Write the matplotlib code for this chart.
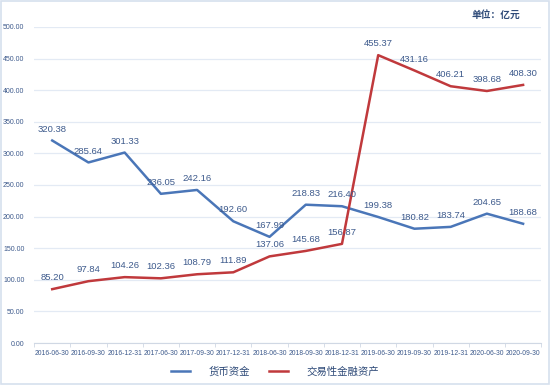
import matplotlib
matplotlib.use("Agg")
import matplotlib.pyplot as plt
from matplotlib.patches import Rectangle
import numpy as np

dates = ["2016-06-30", "2016-09-30", "2016-12-31", "2017-06-30", "2017-09-30", "2017-12-31",
         "2018-06-30", "2018-09-30", "2018-12-31", "2019-06-30", "2019-09-30", "2019-12-31",
         "2020-06-30", "2020-09-30"]
cash = [320.38, 285.64, 301.33, 236.05, 242.16, 192.60, 167.99, 218.83, 216.40, 199.38,
        180.82, 183.74, 204.65, 188.68]
trading = [85.20, 97.84, 104.26, 102.36, 108.79, 111.89, 137.06, 145.68, 156.87, 455.37,
           431.16, 406.21, 398.68, 408.30]
series_names = ["货币资金", "交易性金融资产"]
yticks = [0, 50, 100, 150, 200, 250, 300, 350, 400, 450, 500]

plt.rcParams['font.family'] = ['Liberation Sans', 'Noto Sans CJK SC', 'DejaVu Sans']

fig = plt.figure(figsize=(5.5, 3.85), dpi=100)
fig.patch.set_facecolor('white')
fig.patches.append(Rectangle((0.002, 0.003), 0.996, 0.994, transform=fig.transFigure,
                             fill=False, edgecolor='#d6e0ee', linewidth=1.2))

ax = fig.add_axes([0.062, 0.109, 0.922, 0.821])
x = np.arange(len(dates))
blue = '#4a76b8'
red = '#c0393c'
txt = '#3d5a8c'

ax.plot(x, cash, color=blue, lw=1.8, label=series_names[0], solid_joinstyle='round')
ax.plot(x, trading, color=red, lw=1.8, label=series_names[1], solid_joinstyle='round')

for xi, v in zip(x, cash):
    ax.annotate(f"{v:.2f}", (xi, v), xytext=(0, 5), textcoords='offset points',
                ha='center', va='bottom', fontsize=6.8, color=txt)
for xi, v in zip(x, trading):
    ax.annotate(f"{v:.2f}", (xi, v), xytext=(0, 5), textcoords='offset points',
                ha='center', va='bottom', fontsize=6.8, color=txt)

ax.set_xlim(-0.5, len(dates) - 0.5)
ax.set_ylim(0, 500)
ax.set_yticks(yticks)
ax.set_yticklabels([f"{t:.2f}" for t in yticks], fontsize=5, color=txt)
ax.set_xticks(x)
ax.set_xticklabels(dates, fontsize=4.9, color=txt)
ax.set_xticks(np.arange(-0.5, len(dates)), minor=True)
ax.tick_params(axis='x', which='major', length=0, pad=5)
ax.tick_params(axis='x', which='minor', length=3, color='#d0d8e4')
ax.tick_params(axis='y', length=0, pad=7)
ax.grid(axis='y', color='#e3eaf4', lw=0.9)
ax.set_axisbelow(True)
for s in ['top', 'right', 'left']:
    ax.spines[s].set_visible(False)
ax.spines['bottom'].set_color('#d0d8e4')

fig.text(0.945, 0.962, "单位：亿元", ha='right', va='center', fontsize=7, fontweight='bold',
         color='#2e4a78', family=['Noto Sans CJK SC', 'DejaVu Sans'])

leg = fig.legend(loc='center', bbox_to_anchor=(0.5, 0.035), ncol=2, frameon=False,
                 prop={'family': ['Noto Sans CJK SC', 'DejaVu Sans'], 'size': 7.5},
                 handlelength=1.8, columnspacing=1.8, handletextpad=1.8)
for t in leg.get_texts():
    t.set_color('#2e4a78')

fig.savefig("out.png", dpi=100, facecolor='white')
